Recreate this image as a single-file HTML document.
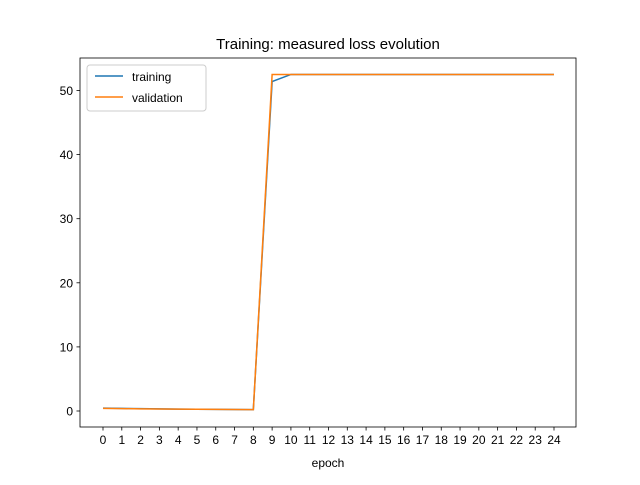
<!DOCTYPE html>
<html><head><meta charset="utf-8"><style>body{margin:0;background:#fff}svg{font-family:"Liberation Sans","DejaVu Sans",sans-serif}</style></head>
<body>
<svg id="chart" width="640" height="480">
<rect x="0" y="0" width="640" height="480" fill="#fff"/>
<text x="328" y="49" font-size="15" text-anchor="middle">Training: measured loss evolution</text>
<g id="plot"></g>
<rect x="80" y="58" width="496" height="369" fill="none" stroke="#000" stroke-width="0.8"/>
<text x="328" y="467" font-size="12" text-anchor="middle">epoch</text>
<g>
<rect x="87" y="65" width="119" height="46" rx="3" fill="#fff" stroke="#ccc"/>
<line x1="95" y1="76" x2="123" y2="76" stroke="#1f77b4" stroke-width="1.5"/>
<text x="132" y="81" font-size="12">training</text>
<line x1="95" y1="97" x2="123" y2="97" stroke="#ff7f0e" stroke-width="1.5"/>
<text x="132" y="102" font-size="12">validation</text>
</g>
</svg>
<script>
const epochs=[0,1,2,3,4,5,6,7,8,9,10,11,12,13,14,15,16,17,18,19,20,21,22,23,24];
const trainingLoss=[0.45,0.4,0.37,0.33,0.3,0.28,0.26,0.24,0.22,51.4,52.5,52.5,52.5,52.5,52.5,52.5,52.5,52.5,52.5,52.5,52.5,52.5,52.5,52.5,52.5];
const validationLoss=[0.4,0.37,0.34,0.31,0.29,0.27,0.25,0.23,0.21,52.5,52.5,52.5,52.5,52.5,52.5,52.5,52.5,52.5,52.5,52.5,52.5,52.5,52.5,52.5,52.5];
const yTicks=[0,10,20,30,40,50];
const NS="http://www.w3.org/2000/svg";
const g=document.getElementById('plot');
const xs=v=>103+v*(554-103)/24;
const ys=v=>411-v*(411-90.5)/50;
function mk(t,a){const e=document.createElementNS(NS,t);for(const k in a)e.setAttribute(k,a[k]);g.appendChild(e);return e;}
epochs.forEach(v=>{
 const l=mk('line',{x1:xs(v),x2:xs(v),y1:427,y2:430.5,stroke:'#000','stroke-width':0.8});
 
 
 const t=mk('text',{x:xs(v),y:444,'font-size':12,'text-anchor':'middle'});t.textContent=v;
 
 
});
yTicks.forEach(v=>{
 const l=mk('line',{x1:76.5,x2:80,y1:ys(v),y2:ys(v),stroke:'#000','stroke-width':0.8});
 
 
 const t=mk('text',{x:73,y:ys(v)+4.5,'font-size':12,'text-anchor':'end'});t.textContent=v;
 
 
});
function series(d,c,n){
 const p=mk('polyline',{points:d.map((v,i)=>xs(epochs[i])+','+ys(v)).join(' '),fill:'none',stroke:c,'stroke-width':1.5});
 
 
}
series(trainingLoss,'#1f77b4','training-line');
series(validationLoss,'#ff7f0e','validation-line');
</script>
</body></html>
